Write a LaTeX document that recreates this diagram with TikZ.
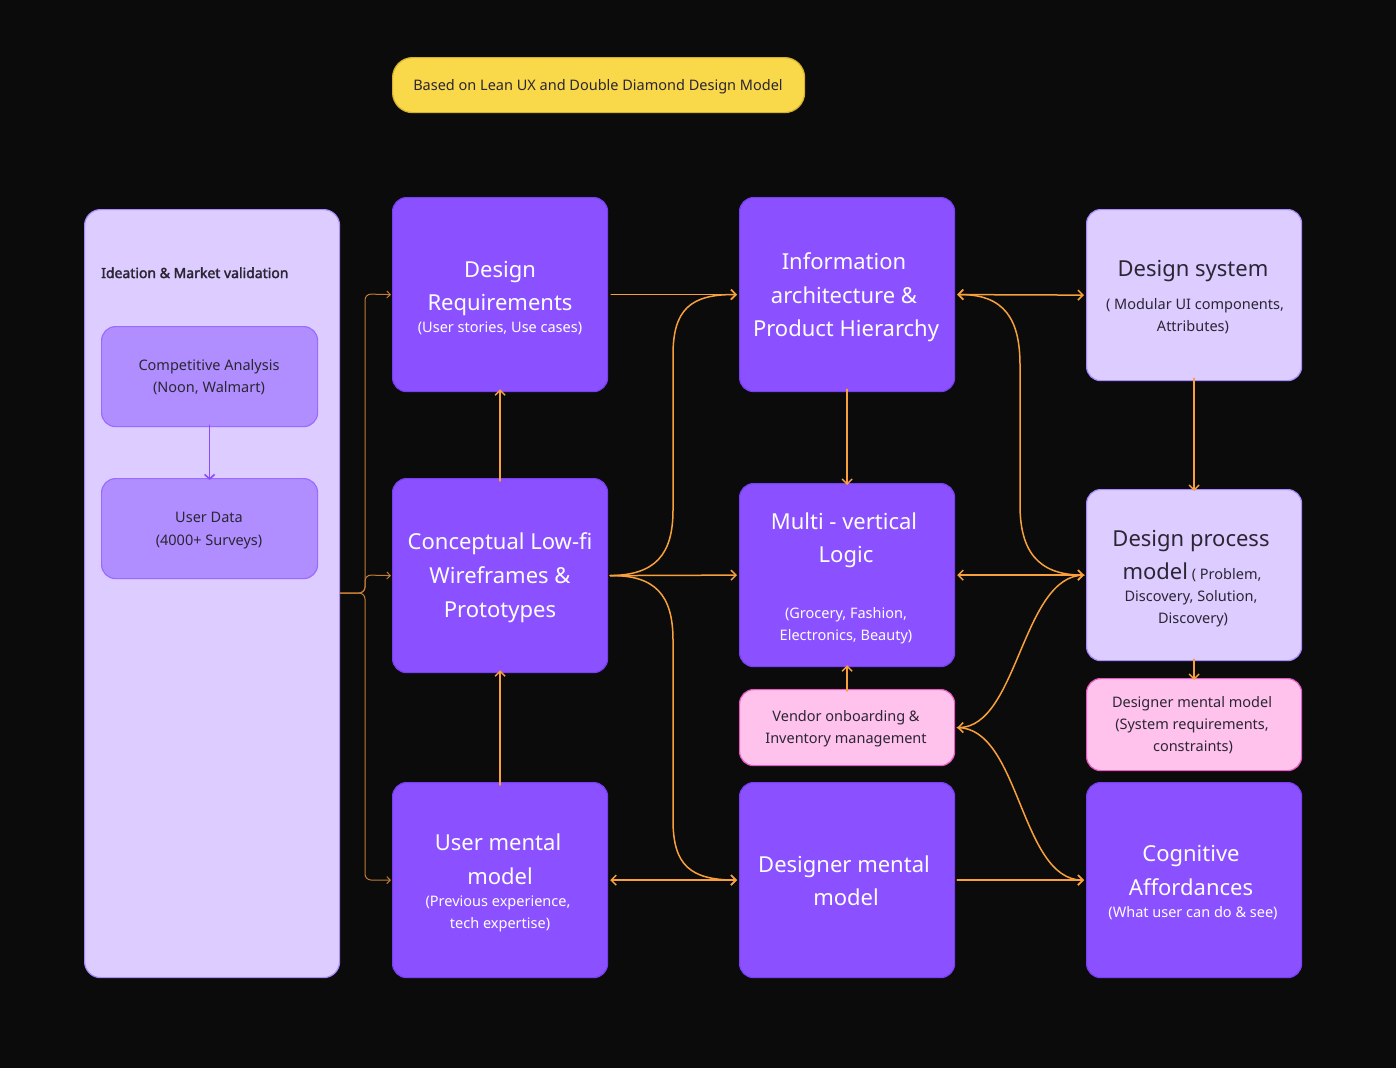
\documentclass[tikz,border=0pt]{standalone}
\usepackage{fontspec}
\setmainfont{Noto Sans}
\newfontfamily\ideafont{Noto Sans}[FakeBold=2.2]
\usetikzlibrary{arrows.meta}
\definecolor{bg}{HTML}{0B0B0B}
\definecolor{pfill}{HTML}{8B50FF}
\definecolor{pborder}{HTML}{7A3FF2}
\definecolor{lfill}{HTML}{DCCCFF}
\definecolor{lborder}{HTML}{A88CFF}
\definecolor{mfill}{HTML}{B18EFF}
\definecolor{mborder}{HTML}{9B6BFF}
\definecolor{kfill}{HTML}{FFC2EC}
\definecolor{kborder}{HTML}{E85BC0}
\definecolor{yfill}{HTML}{F9D849}
\definecolor{yborder}{HTML}{D4B22E}
\definecolor{dtext}{HTML}{2B2633}
\definecolor{orng}{HTML}{F7A03C}
\definecolor{brc}{HTML}{C27C32}
\definecolor{parr}{HTML}{8A4BFF}
\begin{document}
\begin{tikzpicture}[x=1pt,y=-1pt,
  bx/.style={rounded corners=14pt, minimum width=215pt, anchor=north west, inner sep=0pt, line width=1.2pt},
  pbox/.style={bx, draw=pborder, fill=pfill},
  lbox/.style={bx, draw=lborder, fill=lfill},
  kbox/.style={bx, draw=kborder, fill=kfill},
  mbox/.style={bx, minimum width=216pt, draw=mborder, fill=mfill},
  tb/.style={text=white, font=\fontsize{22}{26}\selectfont, anchor=base, inner sep=0pt},
  ts/.style={text=white, font=\fontsize{14.5}{18}\selectfont, anchor=base, inner sep=0pt},
  tbd/.style={tb, text=dtext},
  tsd/.style={ts, text=dtext},
  conn/.style={draw=orng, line width=1.5pt, line cap=round, -{Straight Barb[length=5pt,width=10pt]}},
  dconn/.style={conn, {Straight Barb[length=5pt,width=10pt]}-{Straight Barb[length=5pt,width=10pt]}},
  bconn/.style={draw=brc, line width=1pt, rounded corners=6pt, -{Straight Barb[length=3.5pt,width=7pt]}},
  pconn/.style={draw=parr, line width=1.6pt, line cap=round, -{Straight Barb[length=4.5pt,width=10pt]}}
]
\useasboundingbox[fill=bg] (0,0) rectangle (1396,1068);

% banner
\node[bx, draw=yborder, fill=yfill, minimum width=412pt, minimum height=55pt, rounded corners=20pt] (BN) at (392,57) {};
\node[tsd] (BNt) at (598,90) {Based on Lean UX and Double Diamond Design Model};

% left panel
\node[bx, draw=lborder, fill=lfill, minimum width=255pt, minimum height=768pt, rounded corners=16pt] (LP) at (84,209) {};
\node[tsd, anchor=base west, font=\ideafont\fontsize{14}{17}\selectfont] (LPt) at (101,278) {Ideation \& Market validation};
\node[mbox, minimum height=100pt] (CAN) at (101,326) {};
\node[tsd] (CAN1) at (209,370) {Competitive Analysis};
\node[tsd] (CAN2) at (209,392) {(Noon, Walmart)};
\node[mbox, minimum height=100pt] (UD) at (101,478) {};
\node[tsd] (UD1) at (209,522) {User Data};
\node[tsd] (UD2) at (209,545) {(4000+ Surveys)};
\draw[pconn] ([yshift=2pt]CAN.south) -- ([yshift=-2pt]UD.north);

% column 2
\node[pbox, minimum height=194pt] (DR) at (392,197) {};
\node[tb] (DR1) at (500,277) {Design};
\node[tb] (DR2) at (500,310) {Requirements};
\node[ts] (DR3) at (500,332) {(User stories, Use cases)};

\node[pbox, minimum height=194pt] (CW) at (392,478) {};
\node[tb] (CW1) at (500,549) {Conceptual Low-fi};
\node[tb] (CW2) at (500,583) {Wireframes \&};
\node[tb] (CW3) at (500,617) {Prototypes};

\node[pbox, minimum height=195pt] (UMM) at (392,782) {};
\node[tb] (UMM1) at (498,850) {User mental};
\node[tb] (UMM2) at (500,884) {model};
\node[ts] (UMM3) at (498,906) {(Previous experience,};
\node[ts] (UMM4) at (500,928) {tech expertise)};

% column 3
\node[pbox, minimum height=194pt] (IA) at (739,197) {};
\node[tb] (IA1) at (844,269) {Information};
\node[tb] (IA2) at (844,303) {architecture \&};
\node[tb] (IA3) at (846,336) {Product Hierarchy};

\node[pbox, minimum height=183pt] (MV) at (739,483) {};
\node[tb] (MV1) at (844,529) {Multi - vertical};
\node[tb] (MV2) at (846,562) {Logic};
\node[ts] (MV3) at (846,618) {(Grocery, Fashion,};
\node[ts] (MV4) at (846,640) {Electronics, Beauty)};

\node[kbox, minimum height=76pt] (VO) at (739,689) {};
\node[tsd] (VO1) at (846,721) {Vendor onboarding \&};
\node[tsd] (VO2) at (846,743) {Inventory management};

\node[pbox, minimum height=195pt] (DMM) at (739,782) {};
\node[tb] (DMM1) at (844,872) {Designer mental};
\node[tb] (DMM2) at (846,905) {model};

% column 4
\node[lbox, minimum height=171pt] (DS) at (1086,209) {};
\node[tbd] (DS1) at (1193,276) {Design system};
\node[tsd] (DS2) at (1195,309) {( Modular UI components,};
\node[tsd] (DS3) at (1193,331) {Attributes)};

\node[lbox, minimum height=171pt] (DPM) at (1086,489) {};
\node[tbd] (DPM1) at (1191,546) {Design process};
\node[tsd] (DPM2) at (1192,579) {{\fontsize{22}{26}\selectfont model} ( Problem,};
\node[tsd] (DPM3) at (1191,601) {Discovery, Solution,};
\node[tsd] (DPM4) at (1193,623) {Discovery)};

\node[kbox, minimum height=92pt] (DMP) at (1086,678) {};
\node[tsd] (DMP1) at (1192,707) {Designer mental model};
\node[tsd] (DMP2) at (1192,729) {(System requirements,};
\node[tsd] (DMP3) at (1193,751) {constraints)};

\node[pbox, minimum height=195pt] (CA) at (1086,782) {};
\node[tb] (CA1) at (1191,861) {Cognitive};
\node[tb] (CA2) at (1191,895) {Affordances};
\node[ts] (CA3) at (1193,917) {(What user can do \& see)};

% brace from left panel
\coordinate (BS) at (LP.east |- 0,593);
\draw[bconn] (BS) -| (365,294) -- ([xshift=-1pt]DR.west);
\draw[bconn] (BS) -| (365,575) -- ([xshift=-1pt]CW.west);
\draw[bconn] (BS) -| (365,880) -- ([xshift=-1pt]UMM.west);

% vertical arrows
\draw[conn] ([yshift=-3pt]CW.north) -- ([yshift=3pt]DR.south);
\draw[conn] ([yshift=-3pt]UMM.north) -- ([yshift=3pt]CW.south);
\draw[conn] ([yshift=3pt]IA.south) -- ([yshift=-2pt]MV.north);
\draw[conn] ([yshift=-2pt]VO.north) -- ([yshift=2pt]MV.south);
\draw[conn] ([yshift=3pt]DS.south) -- ([yshift=-2pt]DPM.north);
\draw[conn] ([yshift=2pt]DPM.south) -- ([yshift=-2pt]DMP.north);

% horizontal arrows col2-col3
\draw[conn] ([xshift=3pt]DR.east) -- ([xshift=-2pt]IA.west);
\draw[conn] ([xshift=2pt]CW.east) -- ([xshift=-2pt]MV.west);
\draw[dconn] ([xshift=2pt]UMM.east) -- ([xshift=-2pt]DMM.west);
\draw[conn] ([xshift=2pt]CW.east) .. controls (655,575) and (673,555) .. (673,510) -- (673,355) .. controls (673,310) and (690,294) .. ([xshift=-2pt]IA.west);
\draw[conn] ([xshift=2pt]CW.east) .. controls (655,575) and (673,595) .. (673,640) -- (673,820) .. controls (673,865) and (690,880) .. ([xshift=-2pt]DMM.west);

% col3-col4
\draw[dconn] ([xshift=2pt]IA.east) -- ([xshift=-2pt]DS.west);
\draw[dconn] ([xshift=2pt]MV.east) -- ([xshift=-2pt]DPM.west);
\draw[conn] ([xshift=2pt]DMM.east) -- ([xshift=-2pt]CA.west);
\draw[dconn] ([xshift=2pt]IA.east) .. controls (1005,294) and (1020,320) .. (1020,365) -- (1020,505) .. controls (1020,550) and (1037,575) .. ([xshift=-2pt]DPM.west);
\draw[conn] ([xshift=-2pt]DPM.west) .. controls (1022,575) and (1018,727) .. ([xshift=2pt]VO.east);
\draw[conn] ([xshift=2pt]VO.east) .. controls (1020,727) and (1020,880) .. ([xshift=-2pt]CA.west);
\end{tikzpicture}
\end{document}
